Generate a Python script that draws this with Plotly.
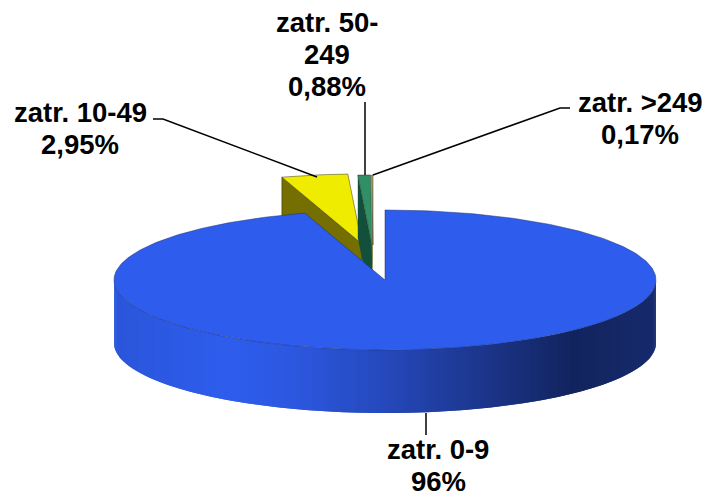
import math
import plotly.graph_objects as go

# Data as printed on the chart
categories = ["zatr. 0-9", "zatr. 10-49", "zatr. 50-249", "zatr. >249"]
shares = [96, 2.95, 0.88, 0.17]
label_lines = [["zatr. 0-9", "96%"], ["zatr. 10-49", "2,95%"], ["zatr. 50-", "249", "0,88%"], ["zatr. >249", "0,17%"]]
# Sweep of each slice as drawn in the picture (degrees, 3D projection widens the small ones)
drawn_sweep = [342.8, 14.2, 2.7, 0.3]
explode_dx = [0, -23, -13, -12]
explode_dy = [0, -36, -35, -35]
top_colors = ["#2e5ded", "#f0ec00", "#2f8f66", "#b9b583"]
cut_colors = ["#2e5ded", "#746f00", "#12503c", "#8f8b5a"]
# Shading of the blue outer wall, left to right
wall_stops = [(114, (42, 86, 218)), (225, (46, 93, 237)), (290, (44, 88, 224)),
              (385, (37, 72, 186)), (480, (28, 54, 140)), (570, (18, 36, 94)),
              (656, (23, 42, 108))]

# Canvas and pie geometry
W, H = 705, 499
CX, CY, RX, RY, DEPTH = 385, 280, 271, 70, 63


def pt(deg, ox=0, oy=0):
    a = math.radians(deg)
    return CX + ox + RX * math.sin(a), CY + oy - RY * math.cos(a)


def wall_color(x):
    for (x0, c0), (x1, c1) in zip(wall_stops, wall_stops[1:]):
        if x <= x1:
            t = max(0, (x - x0) / (x1 - x0))
            return "rgb(%d,%d,%d)" % tuple(round(a + (b - a) * t) for a, b in zip(c0, c1))
    return "rgb(%d,%d,%d)" % wall_stops[-1][1]


fig = go.Figure()


def poly(points, fill, line=None, width=0):
    xs = [p[0] for p in points]
    ys = [p[1] for p in points]
    fig.add_trace(go.Scatter(
        x=xs + xs[:1], y=ys + ys[:1], mode="lines", fill="toself", fillcolor=fill,
        line=dict(color=line or fill, width=width), hoverinfo="skip", showlegend=False))


# angular extents: first slice starts at 12 o'clock, clockwise
starts = []
acc = 0
for s in drawn_sweep:
    starts.append(acc)
    acc += s

# small exploded slices (all lie behind the blue slice)
for i in [1, 2, 3]:
    a0, a1 = starts[i], starts[i] + drawn_sweep[i]
    ox, oy = explode_dx[i], explode_dy[i]
    apex = (CX + ox, CY + oy)
    arc = [pt(a0 + (a1 - a0) * k / 12, ox, oy) for k in range(13)]
    first = arc[0]
    poly([first, apex, (apex[0], apex[1] + DEPTH), (first[0], first[1] + DEPTH)],
         cut_colors[i], "#222222" if i == 1 else None, 0.5 if i == 1 else 0)
    poly(arc + [apex], top_colors[i], "#33331a", 0.5)

# blue outer wall: shaded strips along the front half
N = 200
front = [90 + 180 * (N - k) / N for k in range(N + 1)]  # left to right
for k in range(N):
    a, b = front[k], front[min(k + 2, N)]
    t0, t1 = pt(a), pt(b)
    poly([t0, t1, (t1[0], t1[1] + DEPTH), (t0[0], t0[1] + DEPTH)], wall_color(t0[0]))

# blue top
a0, sweep = starts[0], drawn_sweep[0]
arc = [pt(a0 + sweep * k / 360) for k in range(361)]
poly(arc + [(CX, CY)], top_colors[0], "#1c2f70", 0.5)

# leader lines
leaders = [
    ([426, 426], [413, 435]),
    ([153, 163, 317], [119, 119, 177]),
    ([365, 365], [102, 175]),
    ([373, 560, 570], [175, 108, 108]),
]
for xs, ys in leaders:
    fig.add_trace(go.Scatter(x=xs, y=ys, mode="lines", line=dict(color="black", width=1.5),
                             hoverinfo="skip", showlegend=False))

label_x = [438, 80, 327, 640]
label_first_y = [449, 112, 22, 102]
line_step = 32
for lines, x, y in zip(label_lines, label_x, label_first_y):
    for j, text in enumerate(lines):
        fig.add_annotation(x=x, y=y + j * line_step, text=text, showarrow=False,
                           xanchor="center", yanchor="middle", align="center",
                           font=dict(family="Liberation Sans", size=27.5, color="black", weight=700))

fig.update_layout(
    width=W, height=H, margin=dict(l=0, r=0, t=0, b=0), showlegend=False,
    paper_bgcolor="white", plot_bgcolor="white",
    xaxis=dict(range=[0, W], visible=False, fixedrange=True),
    yaxis=dict(range=[H, 0], visible=False, fixedrange=True),
)
fig.write_html("out.html", config={"displayModeBar": False},
               post_script="document.body.style.margin='0';document.body.style.overflow='hidden';")
